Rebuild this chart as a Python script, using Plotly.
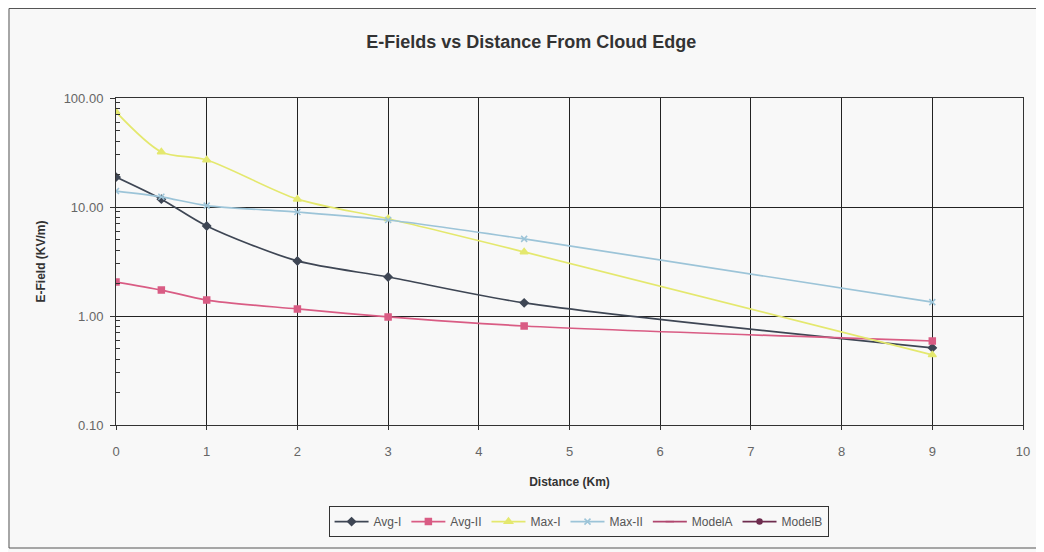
import plotly.graph_objects as go

distance = [0, 0.5, 1, 2, 3, 4.5, 9]
avg_i = [18.8, 11.8, 6.7, 3.2, 2.28, 1.32, 0.51]
avg_ii = [2.05, 1.73, 1.40, 1.16, 0.98, 0.81, 0.59]
max_i = [74.5, 32.0, 27.0, 11.8, 7.8, 3.87, 0.44]
max_ii = [14.0, 12.4, 10.3, 9.0, 7.6, 5.1, 1.34]
model_a = []
model_b = []

series = [
    ("Avg-I", avg_i, "#3e4654", "diamond", 6),
    ("Avg-II", avg_ii, "#d95c84", "square", 6),
    ("Max-I", max_i, "#e4e86e", "triangle-up", 7),
    ("Max-II", max_ii, "#9cc4d8", "x-thin-open", 6),
    ("ModelA", model_a, "#b0466e", "line-ew-open", 6),
    ("ModelB", model_b, "#6e2c4e", "circle", 5),
]

W, H = 1036, 544
minor_vals = [m * 10 ** e for e in (-1, 0, 1) for m in range(2, 10)]

fig = go.Figure()
for name, vals, color, sym, size in series:
    xs = distance[:len(vals)] if vals else [None]
    ys = vals if vals else [None]
    fig.add_trace(go.Scatter(
        x=xs, y=ys, name=name, mode="lines+markers",
        line=dict(color=color, width=1.7, shape="spline", smoothing=0.8),
        marker=dict(color=color, symbol=sym, size=size, line=dict(color=color, width=1.5)),
    ))

fig.update_layout(
    width=W, height=H,
    paper_bgcolor="#f8f8f8", plot_bgcolor="#f8f8f8",
    margin=dict(l=108, r=21, t=90, b=127),
    font=dict(family="Liberation Sans, Arial, sans-serif", color="#444"),
    title=dict(text="<b>E-Fields vs Distance From Cloud Edge</b>", x=0.505, xanchor="center",
               y=1 - 34 / H, yanchor="middle", font=dict(size=18, color="#333")),
    showlegend=True,
    legend=dict(orientation="h", x=0.51, xanchor="center", y=-0.248, yanchor="top",
                bordercolor="#333", borderwidth=1, bgcolor="#f8f8f8",
                font=dict(size=12, color="#555"), itemwidth=34),
    shapes=[dict(type="rect", xref="paper", yref="paper",
                 x0=-108 / 907 + 1 / 907, x1=(1031 - 108) / 907,
                 y0=-(540 - 417) / 327, y1=(417 - 0.5) / 327,
                 line=dict(color="#555", width=1), layer="below")],
)
fig.update_xaxes(
    range=[0, 10], dtick=1, tick0=0, showgrid=True, gridcolor="#222", gridwidth=1,
    showline=True, linecolor="#333", mirror=True, zeroline=False,
    ticks="outside", ticklen=4, tickcolor="#333", ticklabelstandoff=10,
    tickfont=dict(size=13, color="#666"),
    title=dict(text="<b>Distance (Km)</b>", font=dict(size=12, color="#333"), standoff=20),
)
fig.update_yaxes(
    type="log", range=[-1, 2], tickmode="array", tickvals=[0.1, 1, 10, 100], tickformat=".2f",
    showgrid=True, gridcolor="#222", gridwidth=1,
    showline=True, linecolor="#333", mirror=True, zeroline=False,
    ticks="outside", ticklen=5, tickcolor="#333", ticklabelstandoff=4,
    minor=dict(ticks="inside", ticklen=4, tickwidth=1, tickcolor="#333", showgrid=False,
               tickmode="array", tickvals=minor_vals),
    tickfont=dict(size=13, color="#666"),
    title=dict(text="<b>E-Field (KV/m)</b>", font=dict(size=12, color="#333"), standoff=15),
)

fig.write_html("out.html")
